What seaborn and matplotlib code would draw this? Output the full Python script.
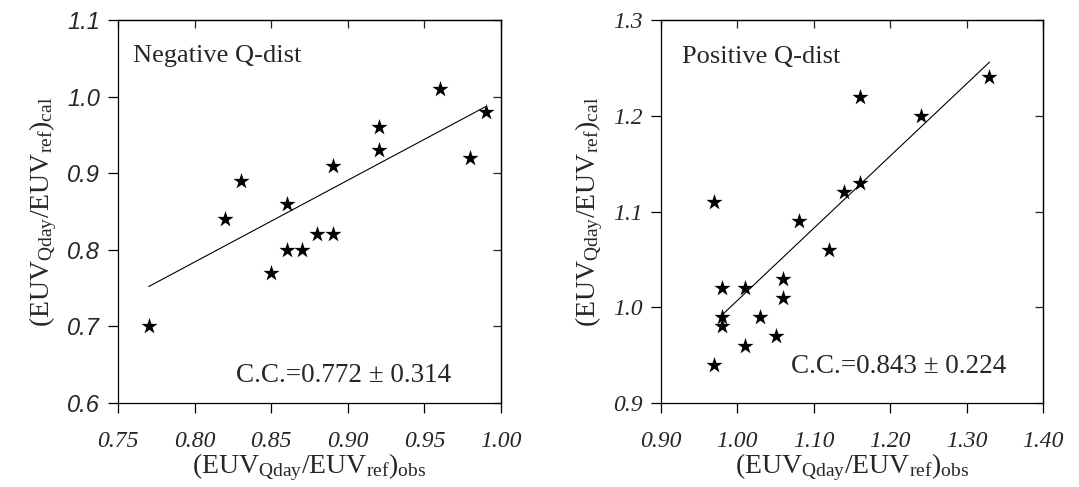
import numpy as np
import pandas as pd
import matplotlib
matplotlib.use("Agg")
import matplotlib.pyplot as plt
import seaborn as sns

# ---------------- data ----------------
neg_obs = [0.77, 0.82, 0.83, 0.85, 0.86, 0.86, 0.87, 0.88, 0.89, 0.89, 0.92, 0.92, 0.96, 0.98, 0.99]
neg_cal = [0.70, 0.84, 0.89, 0.77, 0.86, 0.80, 0.80, 0.82, 0.82, 0.91, 0.93, 0.96, 1.01, 0.92, 0.98]
neg_line_x = [0.77, 0.99]
neg_line_y = [0.752, 0.987]

pos_obs = [0.97, 0.97, 0.98, 0.98, 0.98, 1.01, 1.01, 1.03, 1.05, 1.06, 1.06, 1.08, 1.12, 1.14, 1.16, 1.16, 1.24, 1.33]
pos_cal = [0.94, 1.11, 1.02, 0.99, 0.98, 0.96, 1.02, 0.99, 0.97, 1.01, 1.03, 1.09, 1.06, 1.12, 1.13, 1.22, 1.20, 1.24]
pos_line_x = [0.98, 1.33]
pos_line_y = [0.992, 1.256]

neg_xticks = [0.75, 0.80, 0.85, 0.90, 0.95, 1.00]
neg_yticks = [0.6, 0.7, 0.8, 0.9, 1.0, 1.1]
pos_xticks = [0.90, 1.00, 1.10, 1.20, 1.30, 1.40]
pos_yticks = [0.9, 1.0, 1.1, 1.2, 1.3]

titles = ["Negative Q-dist", "Positive Q-dist"]
cc_texts = ["C.C.=0.772 \u00b1 0.314", "C.C.=0.843 \u00b1 0.224"]

sns.set_style("ticks")
plt.rcParams["font.family"] = ["Liberation Serif", "DejaVu Serif"]
plt.rcParams["mathtext.fontset"] = "custom"
plt.rcParams["mathtext.rm"] = "Liberation Serif"
plt.rcParams["mathtext.it"] = "Liberation Serif:italic"
plt.rcParams["axes.linewidth"] = 0.9

fig = plt.figure(figsize=(10.79, 4.87), dpi=100)
ax1 = fig.add_axes([0.1094, 0.1725, 0.355, 0.7864])
ax2 = fig.add_axes([0.6126, 0.1725, 0.354, 0.7864])

xlab = r"(EUV$_{\rm Qday}$/EUV$_{\rm ref}$)$_{\rm obs}$"
ylab = r"(EUV$_{\rm Qday}$/EUV$_{\rm ref}$)$_{\rm cal}$"

# ax, x, y, line x, line y, xticks, yticks, y-tick font, title pos, cc pos
panels = [
    (ax1, neg_obs, neg_cal, neg_line_x, neg_line_y, neg_xticks, neg_yticks,
     "Liberation Sans", (0.04, 0.905), (0.308, 0.073)),
    (ax2, pos_obs, pos_cal, pos_line_x, pos_line_y, pos_xticks, pos_yticks,
     "Liberation Serif", (0.055, 0.903), (0.34, 0.094)),
]

for i, (ax, xo, yc, lx, ly, xt, yt, yfont, tpos, cpos) in enumerate(panels):
    df = pd.DataFrame({"obs": xo, "cal": yc})
    sns.scatterplot(data=df, x="obs", y="cal", marker="*", s=150, color="black",
                    linewidth=0, ax=ax, zorder=3)
    sns.lineplot(x=lx, y=ly, color="black", lw=0.8, ax=ax)

    ax.set_xlim(xt[0], xt[-1])
    ax.set_ylim(yt[0], yt[-1])
    ax.set_xticks(xt)
    ax.set_yticks(yt)
    ax.set_xticklabels([f"{v:.2f}" for v in xt], fontsize=17, style="italic",
                       family="Liberation Serif")
    ax.set_yticklabels([f"{v:.1f}" for v in yt], fontsize=17, style="italic",
                       family=yfont)
    ax.tick_params(axis="both", direction="out", length=7, width=0.9, color="black")
    ax.tick_params(axis="y", pad=6)
    ax.tick_params(axis="x", pad=13)

    # inward ticks on top and right spines
    top = ax.secondary_xaxis("top")
    top.set_xticks(xt)
    top.tick_params(direction="in", length=6, width=0.9, labeltop=False)
    right = ax.secondary_yaxis("right")
    right.set_yticks(yt)
    right.tick_params(direction="in", length=6, width=0.9, labelright=False)

    for sp in ax.spines.values():
        sp.set_visible(True)
        sp.set_color("black")

    ax.set_xlabel(xlab, fontsize=20, labelpad=0)
    ax.set_ylabel(ylab, fontsize=20, labelpad=6)

    ax.text(tpos[0], tpos[1], titles[i], transform=ax.transAxes, fontsize=19,
            ha="left", va="center")
    ax.text(cpos[0], cpos[1], cc_texts[i], transform=ax.transAxes,
            fontsize=19.5, ha="left", va="center")

fig.savefig("out.png", dpi=100)
